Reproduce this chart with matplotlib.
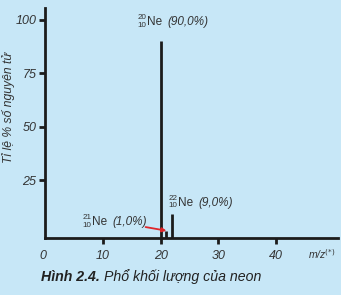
import matplotlib
matplotlib.use("Agg")
import matplotlib.pyplot as plt
from matplotlib.transforms import ScaledTranslation

# Data
isotopes = ["20", "21", "22"]
atomic_number = "10"
mass = [20, 21, 22]
percent = [90.0, 1.0, 9.0]
pct_labels = ["(90,0%)", "(1,0%)", "(9,0%)"]
xticks = [0, 10, 20, 30, 40]
yticks = [25, 50, 75, 100]

bg = "#c7e7f7"
ink = "#1c1c1c"
txt = "#333333"

plt.rcParams["font.family"] = ["Liberation Sans", "DejaVu Sans"]

fig = plt.figure(figsize=(3.41, 2.95), dpi=100, facecolor=bg)
ax = fig.add_axes([0.1334, 0.194, 0.858, 0.779])
ax.set_facecolor(bg)

ymin = -2.0
ax.set_xlim(0, 50.8)
ax.set_ylim(ymin, 105.5)

ax.vlines(mass, ymin, percent, colors=ink, linewidth=2.0)

for s in ["top", "right"]:
    ax.spines[s].set_visible(False)
for s in ["left", "bottom"]:
    ax.spines[s].set_linewidth(2.0)
    ax.spines[s].set_color(ink)

ax.set_xticks(xticks)
ax.set_xticklabels([str(v) for v in xticks], fontstyle="italic", color=txt, fontsize=9)
ax.set_yticks(yticks)
ax.set_yticklabels([str(v) for v in yticks], fontstyle="italic", color=txt, fontsize=9)
ax.tick_params(axis="y", direction="out", length=4.5, width=2.0, color=ink, pad=2)
ax.tick_params(axis="x", direction="out", length=4.5, width=2.0, color=ink, pad=4)
ax.xaxis.get_major_ticks()[0].tick1line.set_visible(False)
lbl0 = ax.get_xticklabels()[0]
lbl0.set_transform(lbl0.get_transform() + ScaledTranslation(-2 / 72, 0, fig.dpi_scale_trans))

ax.set_ylabel("Tỉ lệ % số nguyên tử", fontstyle="italic", fontsize=8.7, color=txt)
ax.yaxis.set_label_coords(-0.104, 0.569)

ax.text(0.99, -0.071, r"m/z$^{(*)}$", transform=ax.transAxes, ha="right", va="center",
        fontstyle="italic", fontsize=7.5, color=txt)

fig.canvas.draw()
renderer = fig.canvas.get_renderer()


def iso_label(x, y, m, p, fs=8.5, sfs=5.8):
    sup = ax.annotate(m, xy=(x, y), xytext=(0, 4.5), textcoords="offset pixels",
                      fontsize=sfs, color=txt, ha="left", va="center")
    sub = ax.annotate(atomic_number, xy=(x, y), xytext=(0, -3.2), textcoords="offset pixels",
                      fontsize=sfs, color=txt, ha="left", va="center")
    w = max(sup.get_window_extent(renderer).width, sub.get_window_extent(renderer).width)
    ne = ax.annotate("Ne", xy=(x, y), xytext=(w + 0.5, 0), textcoords="offset pixels",
                     fontsize=fs, color=txt, ha="left", va="center")
    wn = ne.get_window_extent(renderer).width
    pc = ax.annotate(p, xy=(x, y), xytext=(w + 0.5 + wn + 5, 0), textcoords="offset pixels",
                     fontsize=fs, fontstyle="italic", color=txt, ha="left", va="center")
    return pc


iso_label(16.0, 98.9, isotopes[0], pct_labels[0])
iso_label(21.33, 14.4, isotopes[2], pct_labels[2])
pc = iso_label(6.42, 5.35, isotopes[1], pct_labels[1])
bb = pc.get_window_extent(renderer)
start = ax.transData.inverted().transform((bb.x1 - 1, bb.y0 + 1))
ax.annotate("", xy=(mass[1], percent[1] + 0.3), xytext=tuple(start),
            arrowprops=dict(arrowstyle="-|>", color="#e0262a", lw=1.3, mutation_scale=6,
                            shrinkA=0, shrinkB=0),
            annotation_clip=False)

c1 = fig.text(0.12, 0.062, "Hình 2.4.", fontweight="bold", fontstyle="italic", fontsize=10.2,
              color="#222222", va="center", ha="left")
bbc = c1.get_window_extent(renderer)
fig.text((bbc.x1 + 4) / fig.bbox.width, 0.062, "Phổ khối lượng của neon", fontstyle="italic",
         fontsize=10.2, color="#222222", va="center", ha="left")

fig.savefig("out.png", dpi=100, facecolor=bg)
